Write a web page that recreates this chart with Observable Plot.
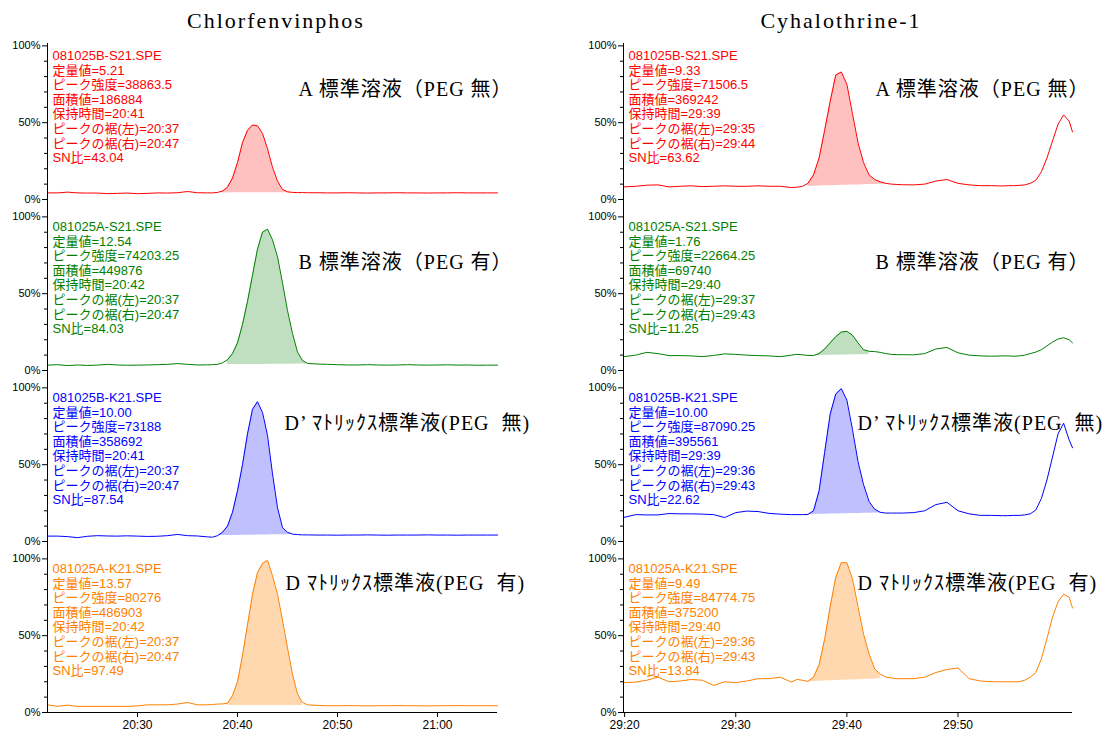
<!DOCTYPE html>
<html><head><meta charset="utf-8">
<script src="https://cdn.jsdelivr.net/npm/d3@7"></script>
<script src="https://cdn.jsdelivr.net/npm/@observablehq/plot@0.6"></script>
<style>
body{margin:0;background:#fff;}
#wrap{position:relative;width:1109px;height:736px;overflow:hidden;background:#fff;}
.title{position:absolute;top:10px;font-family:"Liberation Serif",serif;font-size:22px;letter-spacing:2px;text-align:center;line-height:22px;white-space:nowrap;color:#000;}
.col{position:absolute;top:27px;}
</style></head><body>
<div id="wrap">
<div class="title" style="left:0;width:552px">Chlorfenvinphos</div>
<div class="title" style="left:576px;width:530px">Cyhalothrine-1</div>
<div class="col" id="left" style="left:0"></div>
<div class="col" id="right" style="left:576px"></div>
</div>
<script>
// ---------- data ----------
const panels = ["A", "B", "D′", "D"];
const panelLabels = ["A 標準溶液（PEG 無）", "B 標準溶液（PEG 有）", "D’ ﾏﾄﾘｯｸｽ標準液(PEG  無)", "D ﾏﾄﾘｯｸｽ標準液(PEG  有)"];
const columnTitles = ["Chlorfenvinphos", "Cyhalothrine-1"];

// retention time in seconds (20:21 .. 21:06)
const leftTimes = [1221,1222,1223,1224,1225,1226,1227,1228,1229,1230,1231,1232,1233,1234,1235,1236,1237,
  1237.5,1238,1238.5,1239,1239.5,1240,1240.5,1241,1241.5,1242,1242.5,1243,1243.5,1244,1244.5,1245,1245.5,1246,1246.5,1247,
  1248,1249,1250,1251,1252,1253,1254,1255,1256,1257,1258,1259,1260,1261,1262,1263,1264,1265,1266];
const chlA = [4.3,4.3,4.8,4.3,4.2,4.2,3.8,4.0,4.2,3.8,4.0,4.3,4.2,4.4,5.2,4.4,4.3,
  4.3,4.6,5.5,8,14,24,37,45,48.5,48,43,33,21,12,6.5,5,4.6,4.5,4.5,4.4,
  4.4,4.3,4.3,4.4,4.3,4.2,4.3,4.3,4.4,4.3,4.3,4.2,4.3,4.3,4.4,4.3,4.3,4.3,4.3];
const chlB = [3.5,3.8,3.2,3.6,3.3,3.5,4.0,3.6,3.4,3.5,3.6,3.8,4.0,4.5,4.0,3.6,3.7,
  3.8,4.0,5.0,7.0,11,18,30,45,62,79,90,92,85,74,57,39,24,12,6.5,4.6,
  4.2,4.0,3.8,3.6,3.6,3.8,3.6,3.5,3.6,3.8,3.6,3.5,3.6,3.7,3.5,3.6,3.4,3.5,3.5];
const chlDp = [3.5,3.5,3.2,2.5,3.4,3.8,3.6,3.5,3.7,3.5,3.3,3.4,3.8,4.6,3.8,3.6,3.0,
  2.8,3.8,6,10,19,33,50,70,86,91,84,69,44,22,9,6,4.8,4.5,4.3,4.3,
  4.2,4.2,4.1,4.2,4.2,4.3,4.2,4.1,4.2,4.2,4.2,4.3,4.2,4.2,4.1,4.2,4.2,4.2,4.2];
const chlD = [5.0,4.0,4.8,4.0,4.0,4.0,4.0,4.0,4.0,4.3,5.0,5.0,5.0,5.5,6.5,5.0,5.0,
  5.2,5.5,5.6,6,11,20,37,57,77,91,97,99,89,77,60,42,25,12,6.5,5,
  4.6,4.4,4.4,4.5,4.4,4.3,4.4,4.4,4.5,4.4,4.4,4.3,4.4,4.4,4.5,4.4,4.4,4.4,4.4];

// retention time in seconds (29:20 .. 30:00)
const rightTimes = [1759.9,1761,1762,1763,1764,1765,1766,1767,1768,1769,1770,1771,1772,1773,1774,1775,
  1775.5,1776,1776.5,1777,1777.5,1778,1778.5,1779,1779.5,1780,1780.5,1781,1781.5,1782,1782.5,1783,1783.5,1784,1784.5,
  1785,1786,1787,1788,1789,1790,1791,1792,1793,1794,
  1794.5,1795,1795.5,1796,1796.5,1797,1797.5,1798,1798.5,1799,1799.5,1800,1800.3];
const cyhA = [8.2,8.6,9.3,9.5,8.2,8.6,8.9,8.4,8.6,8.9,8.6,8.6,8.9,8.6,8.6,7.8,
  8.0,8.6,10.5,16,27,45,64,81,83,75,56,37,24,16,13,11.5,10.5,10,9.8,
  9.6,9.5,10,12,13,10.5,9.5,9,9,8.8,
  9,9,9.2,9.5,10.5,12.5,18,27,38,49,55,51,44];
const cyhB = [9,10,11.8,11,9.7,9.7,9.5,9,9.8,10.8,10.5,10,9.7,9.5,9.0,10,
  10.5,10.2,9.8,9.7,11,14,18,22,25,25.5,23,18,13.5,12.5,12.3,11.8,11,10.5,10.3,
  10.3,10.2,11,14,15,11.5,10,9.5,9.3,9.5,
  9.5,9.3,9.5,10,11,12,13.5,16,18.5,20.5,21.3,20,18];
const cyhDp = [15.6,17.5,17.3,17.3,18.2,18,18,17.8,17.5,15.6,18.8,19.8,19.5,18.3,17.8,17.5,
  17.5,17.5,17.6,20,33,58,83,96,99.5,92,73,52,37,26,21,19,18.5,18.5,18.5,
  18.5,18.8,20,24,25.5,20,18,17,17,16.8,
  16.8,17,17,17.3,18,20.5,28,40,55,70,77,66,61];
const cyhD = [19.4,19.8,21,23,20,20.5,21.5,21,17.6,20,19.4,20.5,22,22,23,19.8,
  21.5,21,20.2,23,31,47.7,69,88,97.5,97.5,87,69,51,38,28.4,25,23,22.5,22,
  22,22,23,26,28,29,22,20.5,20,20,
  20,20,20,21,23,26,35,48,62,72,77,75,68];

// integrated peak windows [start, end] (s) and baseline levels [start, end] (%)
const chlPeakWin = [[1238.5,1245.5],[1239,1247],[1238,1245.5],[1239,1246.5]];
const chlPeakBase = [[4.3,4.4],[3.8,4.2],[3.8,4.5],[4.5,4.5]];
const cyhPeakWin = [[1776.5,1783.5],[1777,1782],[1776.5,1783],[1776.5,1783]];
const cyhPeakBase = [[8.6,10],[9.7,10.4],[17.5,18.6],[20,22]];

// annotation fields
const chlFiles = ["081025B-S21.SPE","081025A-S21.SPE","081025B-K21.SPE","081025A-K21.SPE"];
const chlQuant = ["5.21","12.54","10.00","13.57"];
const chlHeight = ["38863.5","74203.25","73188","80276"];
const chlArea = ["186884","449876","358692","486903"];
const chlRT = ["20:41","20:42","20:41","20:42"];
const chlLeft = ["20:37","20:37","20:37","20:37"];
const chlRight = ["20:47","20:47","20:47","20:47"];
const chlSN = ["43.04","84.03","87.54","97.49"];

const cyhFiles = ["081025B-S21.SPE","081025A-S21.SPE","081025B-K21.SPE","081025A-K21.SPE"];
const cyhQuant = ["9.33","1.76","10.00","9.49"];
const cyhHeight = ["71506.5","22664.25","87090.25","84774.75"];
const cyhArea = ["369242","69740","395561","375200"];
const cyhRT = ["29:39","29:40","29:39","29:40"];
const cyhLeft = ["29:35","29:37","29:36","29:36"];
const cyhRight = ["29:44","29:43","29:43","29:43"];
const cyhSN = ["63.62","11.25","22.62","13.84"];

const yTicks = [0, 50, 100];
const yMinorTicks = [10, 20, 30, 40, 60, 70, 80, 90];
const chlXTicks = [1230, 1240, 1250, 1260];
const cyhXTicks = [1760, 1770, 1780, 1790];

// ---------- styles ----------
const lineColors = ["#ff0000", "#008000", "#0000ff", "#ff8000"];
const fillColors = ["#ffc0c0", "#c0dfc0", "#c0c0ff", "#ffd8b0"];
const sansJP = '"Liberation Sans","Noto Sans CJK JP",sans-serif';
const serifJP = '"Liberation Serif","Noto Sans CJK JP",serif';

const mmss = t => { const m = Math.floor(t / 60 + 1e-9); const s = Math.round(t - m * 60); return m + ":" + String(s).padStart(2, "0"); };

function infoText(f, i) {
  return [f.files[i], "定量値=" + f.quant[i], "ピーク強度=" + f.height[i], "面積値=" + f.area[i],
    "保持時間=" + f.rt[i], "ピークの裾(左)=" + f.left[i], "ピークの裾(右)=" + f.right[i], "SN比=" + f.sn[i]].join("\n");
}

function column(c) {
  const marks = [];
  c.series.forEach((vals, i) => {
    const p = panels[i];
    const rows = vals.map((v, j) => ({panel: p, t: c.times[j], v}));
    const [s, e] = c.win[i];
    const [b0, b1] = c.base[i];
    const fillRows = rows.filter(d => d.t >= s && d.t <= e)
      .map(d => ({...d, base: b0 + (b1 - b0) * (d.t - s) / (e - s)}));
    marks.push(Plot.areaY(fillRows, {x: "t", y1: "base", y2: "v", fy: "panel", fill: fillColors[i]}));
    marks.push(Plot.line(rows, {x: "t", y: "v", fy: "panel", stroke: lineColors[i], strokeWidth: 1}));
    marks.push(Plot.text([{panel: p, text: infoText(c.fields, i)}], {
      fy: "panel", text: "text", frameAnchor: "top-left", textAnchor: "start", lineAnchor: "top",
      dx: 5, dy: 21, fontSize: 13, lineHeight: 1.125, fill: lineColors[i], fontFamily: sansJP}));
    marks.push(Plot.text([{panel: p, text: panelLabels[i]}], {
      fy: "panel", text: "text", frameAnchor: "top-left", textAnchor: "start", lineAnchor: "middle",
      dx: c.labelDx[i], dy: [61.5, 63.5, 53, 42.5][i], fontSize: 20, fontFamily: serifJP, fill: "#000"}));
  });
  const axisRows = panels.map((p, i) => ({panel: p, y1: 0, y2: i === 0 ? 101.5 : 111.3}));
  marks.push(Plot.ruleX(axisRows, {x: c.domain[0], y1: "y1", y2: "y2", fy: "panel", stroke: "#000"}));
  marks.push(Plot.ruleY([{panel: panels[3]}], {y: 0, fy: "panel", stroke: "#000"}));
  marks.push(Plot.axisY({ticks: yTicks, tickFormat: d => d + "%", tickSize: 5, tickPadding: 2, fontSize: 11, label: null}));
  marks.push(Plot.axisY({ticks: yMinorTicks, tickFormat: () => "", tickSize: 3, label: null}));
  marks.push(Plot.axisX({ticks: c.xTicks, tickFormat: mmss, tickSize: 5, tickPadding: 3, fontSize: 12, label: null}));
  const svg = Plot.plot({
    width: c.width, height: 709,
    marginLeft: 47, marginRight: c.marginRight, marginTop: 0, marginBottom: 23,
    x: {domain: c.domain},
    y: {domain: [0, 111.3]},
    fy: {domain: panels, padding: 0, axis: null},
    style: {fontFamily: sansJP, fontSize: "11px", background: "transparent", overflow: "visible", color: "#000"},
    marks
  });
  // wider tracking for the serif panel labels
  svg.querySelectorAll("text").forEach(t => {
    if (panelLabels.includes(t.textContent)) {
      t.setAttribute("letter-spacing", "1");
      t.style.letterSpacing = "1px";
    }
  });
  return svg;
}

document.getElementById("left").append(column({
  times: leftTimes, series: [chlA, chlB, chlDp, chlD], win: chlPeakWin, base: chlPeakBase,
  fields: {files: chlFiles, quant: chlQuant, height: chlHeight, area: chlArea, rt: chlRT, left: chlLeft, right: chlRight, sn: chlSN},
  domain: [1221, 1266], xTicks: chlXTicks, width: 576, marginRight: 79, labelDx: [251, 251, 237, 238]
}));
document.getElementById("right").append(column({
  times: rightTimes, series: [cyhA, cyhB, cyhDp, cyhD], win: cyhPeakWin, base: cyhPeakBase,
  fields: {files: cyhFiles, quant: cyhQuant, height: cyhHeight, area: cyhArea, rt: cyhRT, left: cyhLeft, right: cyhRight, sn: cyhSN},
  domain: [1759.9, 1800.3], xTicks: cyhXTicks, width: 533, marginRight: 37, labelDx: [252, 252, 234, 234]
}));
</script>
</body></html>
